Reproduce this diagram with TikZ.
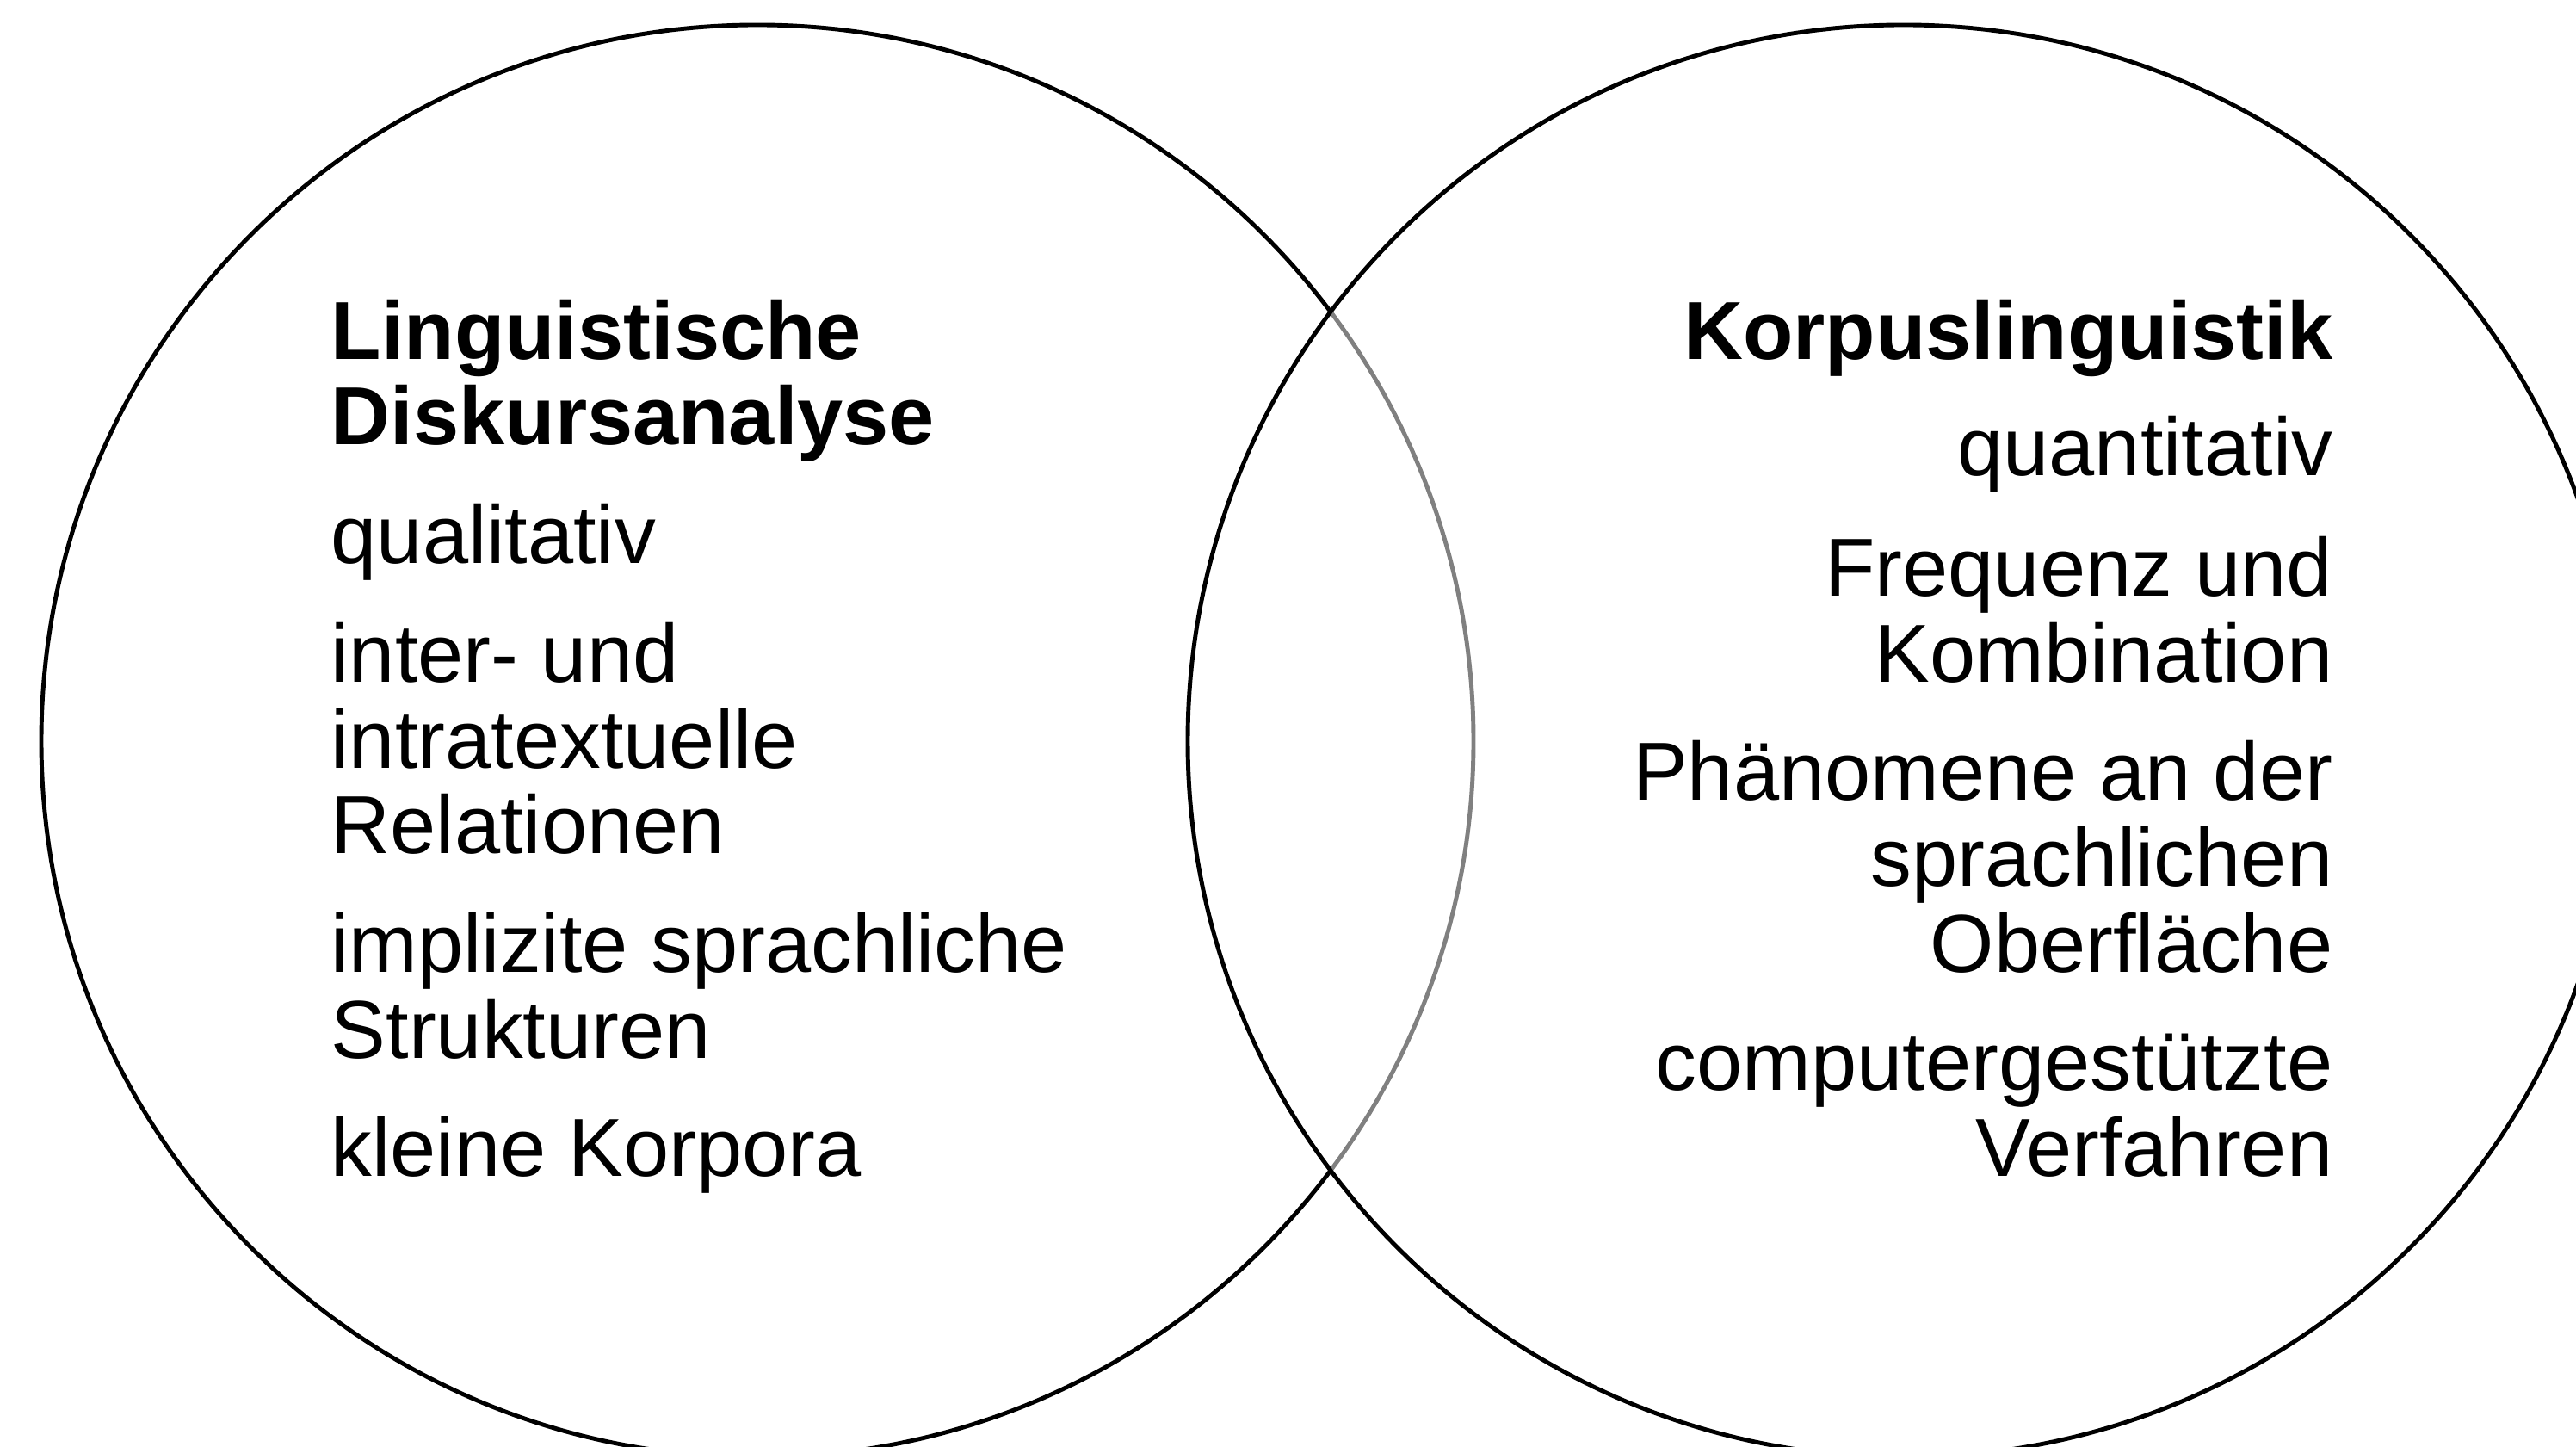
\documentclass[tikz,border=0pt]{standalone}
\usepackage{fontspec}
\setmainfont{Liberation Sans}
\usepackage{tikz}

\tikzset{
  venn/.style={line width=1.4pt, draw=black},
  txt/.style={inner sep=0pt, font=\fontsize{27.2}{28}\selectfont},
  ltxt/.style={txt, anchor=base west},
  rtxt/.style={txt, anchor=base east},
  head/.style={font=\fontsize{27.2}{28}\selectfont\bfseries}
}

\begin{document}
\begin{tikzpicture}
\useasboundingbox (0,0) rectangle (29.93,16.81);
\clip (0,0) rectangle (29.93,16.81);

% the two circles, right one lies over the left one
\draw[venn] (8.80,8.20) circle (8.32);
\fill[white, fill opacity=0.5] (22.12,8.20) circle (8.32);
\draw[venn] (22.12,8.20) circle (8.32);

% Linguistische Diskursanalyse
\node[ltxt, head] (dl1) at (3.84,12.63) {Linguistische};
\node[ltxt, head] (dl2) at (3.84,11.64) {Diskursanalyse};
\node[ltxt] (dl3) at (3.84,10.26) {qualitativ};
\node[ltxt] (dl4) at (3.84,8.88) {inter- und};
\node[ltxt] (dl5) at (3.84,7.88) {intratextuelle};
\node[ltxt] (dl6) at (3.84,6.89) {Relationen};
\node[ltxt] (dl7) at (3.84,5.51) {implizite sprachliche};
\node[ltxt] (dl8) at (3.84,4.51) {Strukturen};
\node[ltxt] (dl9) at (3.84,3.14) {kleine Korpora};

% Korpuslinguistik
\node[rtxt, head] (kl1) at (27.11,12.63) {Korpuslinguistik};
\node[rtxt] (kl2) at (27.11,11.28) {quantitativ};
\node[rtxt] (kl3) at (27.11,9.88) {Frequenz und};
\node[rtxt] (kl4) at (27.11,8.88) {Kombination};
\node[rtxt] (kl5) at (27.11,7.51) {Phänomene an der};
\node[rtxt] (kl6) at (27.11,6.51) {sprachlichen};
\node[rtxt] (kl7) at (27.11,5.51) {Oberfläche};
\node[rtxt] (kl8) at (27.11,4.14) {computergestützte};
\node[rtxt] (kl9) at (27.11,3.14) {Verfahren};
\end{tikzpicture}
\end{document}
